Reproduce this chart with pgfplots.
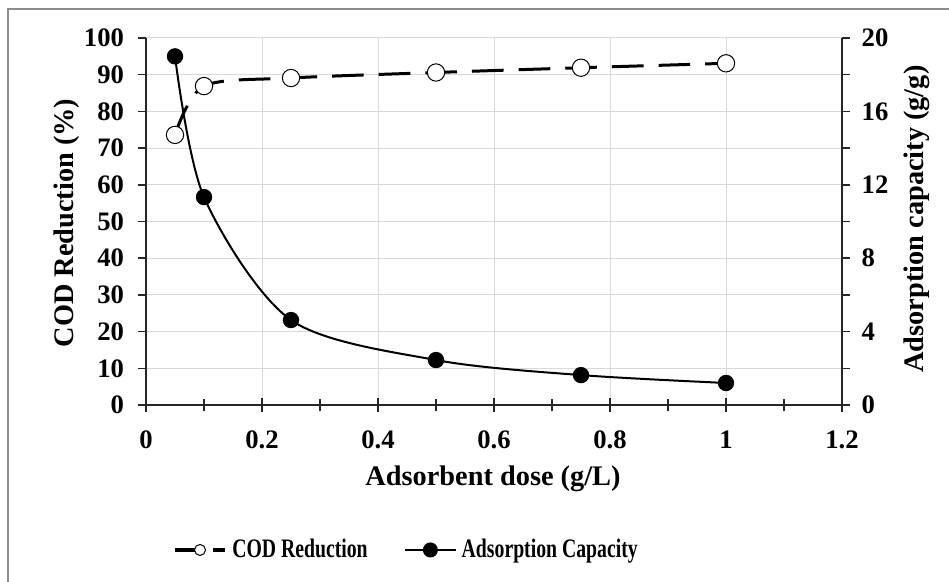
\documentclass[border=0pt]{standalone}
\usepackage{fontspec}
\setmainfont{Liberation Serif}
\usepackage{graphicx}
\usepackage{pgfplots}
\pgfplotsset{compat=1.18}

\definecolor{gridgray}{HTML}{D9D9D9}
\definecolor{framegray}{HTML}{8C8C8C}
\definecolor{axisblack}{HTML}{262626}

% condensed bold text for the legend entries
\newcommand{\lgd}[1]{\scalebox{0.74}[1]{\fontsize{16}{16}\selectfont\bfseries #1}}
\newcommand{\lbl}{\fontsize{17}{17}\selectfont\bfseries}

\pgfplotsset{
  base/.style={
    scale only axis, width=417.6pt, height=220.2pt,
    at={(87.6pt,105.6pt)}, anchor=south west,
    xmin=0, xmax=1.2,
    /pgf/number format/assume math mode=true,
    tick label style={font=\fontsize{16}{16}\selectfont\bfseries},
    axis line style={line width=0.9pt, axisblack},
    every tick/.style={line width=0.9pt, axisblack},
  },
  codstyle/.style={
    black, line width=1.8pt, dash pattern=on 19pt off 9pt,
    smooth, tension=0.5,
    mark=*, mark size=5.2pt,
    mark options={solid, fill=white, draw=black, line width=0.6pt},
  },
  adsstyle/.style={
    black, line width=1.2pt, smooth, tension=0.5,
    mark=*, mark size=4.3pt, mark options={solid, fill=black},
  },
  codlegend/.style={
    legend image code/.code={\draw[mark repeat=2,mark phase=2,##1,
      line width=2.4pt, mark size=3.3pt, dash pattern=on 12.6pt off 10.2pt]
      plot coordinates {(0pt,0pt) (15pt,0pt) (30pt,0pt)};}
  },
  adslegend/.style={
    legend image code/.code={\draw[mark repeat=2,mark phase=2,##1,mark size=3.9pt]
      plot coordinates {(0pt,0pt) (15pt,0pt) (30pt,0pt)};}
  },
}

\begin{document}
\begin{tikzpicture}
\useasboundingbox (0,0) rectangle (569.4pt,348.6pt);
\draw[framegray, line width=0.9pt] (4.8pt,-2pt) -- (4.8pt,343.2pt) -- (572pt,343.2pt);

% left axis: COD reduction
\begin{axis}[base,
  ymin=0, ymax=100, ytick={0,10,...,100},
  xtick={0,0.2,0.4,0.6,0.8,1,1.2}, minor x tick num=1,
  axis x line*=bottom, axis y line*=left,
  ymajorgrids, xmajorgrids, grid style={gridgray, line width=0.6pt},
  xtick align=center, ytick align=outside,
  xtick style={/pgfplots/major tick length=8.4pt, /pgfplots/minor tick length=7.6pt},
  ytick style={/pgfplots/major tick length=4.8pt},
  xticklabel style={yshift=-9.6pt},
  yticklabel style={xshift=-5.4pt},
]
\addplot[codstyle] coordinates {
  (0.05,73.6) (0.1,86.9) (0.25,89.1) (0.5,90.6) (0.75,91.9) (1,93.1)
};
\end{axis}

% right axis: adsorption capacity
\begin{axis}[base,
  ymin=0, ymax=20, ytick={0,4,...,20}, minor y tick num=1,
  axis y line*=right, axis x line=none,
  ytick align=outside,
  ytick style={/pgfplots/major tick length=4.8pt, /pgfplots/minor tick length=4.8pt},
  yticklabel style={xshift=4pt},
  legend columns=2,
  legend style={draw=none, fill=none, inner sep=0pt, outer sep=0pt,
    at={(axis description cs:0.0388,-0.395)}, anchor=west,
    nodes={inner sep=0pt, anchor=west},
    /tikz/every odd column/.append style={column sep=3.2pt},
    /tikz/every even column/.append style={column sep=22pt}},
]
\addlegendimage{codstyle, codlegend}
\addlegendentry{\lgd{COD Reduction}}
\addplot[adsstyle, adslegend] coordinates {
  (0.05,19.0) (0.1,11.33) (0.25,4.63) (0.5,2.45) (0.75,1.63) (1,1.2)
};
\addlegendentry{\lgd{Adsorption Capacity}}
\end{axis}

% axis titles
\node[font=\lbl, anchor=base] at (295.8pt,57.6pt) {Adsorbent dose (g/L)};
\node[font=\lbl, rotate=90, anchor=base] at (43.8pt,214.8pt) {COD Reduction (\%)};
\node[font=\lbl, rotate=90, anchor=base] at (553.8pt,217.2pt) {Adsorption capacity (g/g)};
\end{tikzpicture}
\end{document}
